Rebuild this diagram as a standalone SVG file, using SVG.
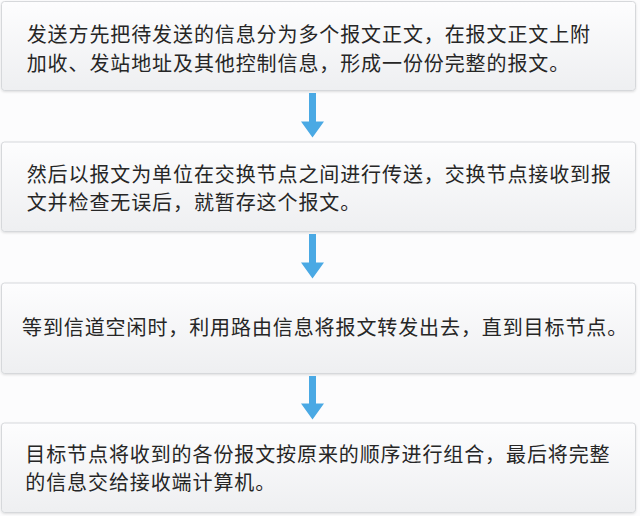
<svg xmlns="http://www.w3.org/2000/svg" width="640" height="516" viewBox="0 0 640 516">
  <defs>
    <linearGradient id="boxFill" x1="0" y1="0" x2="0" y2="1">
      <stop offset="0" stop-color="#fdfdfe"/>
      <stop offset="1" stop-color="#eeeff1"/>
    </linearGradient>
    <filter id="sh" x="-5%" y="-10%" width="110%" height="125%">
      <feDropShadow dx="0" dy="1" stdDeviation="0.8" flood-color="#000" flood-opacity="0.12"/>
    </filter>
  </defs>
  <style>
    .box { fill: url(#boxFill); stroke: #d6d8db; stroke-width: 1; filter: url(#sh); }
    .t { font-family: "Noto Sans CJK SC", "Noto Sans", sans-serif; font-size: 20px; letter-spacing: 0.9px; fill: #262626; }
    .arrow { fill: #4aa9e4; }
  </style>
  <rect width="640" height="516" fill="#fcfcfd"/>

  <g id="node1">
    <rect class="box" x="1.5" y="1.5" width="634" height="89" rx="3"/>
    <text class="t" x="26.7" y="41.6">发送方先把待发送的信息分为多个报文正文，在报文正文上附</text>
    <text class="t" x="26.7" y="70.6">加收、发站地址及其他控制信息，形成一份份完整的报文。</text>
  </g>

  <g id="node2">
    <rect class="box" x="1.5" y="142" width="634" height="89.5" rx="3"/>
    <text class="t" x="26.7" y="181.6">然后以报文为单位在交换节点之间进行传送，交换节点接收到报</text>
    <text class="t" x="26.7" y="210.2">文并检查无误后，就暂存这个报文。</text>
  </g>

  <g id="node3">
    <rect class="box" x="1.5" y="283" width="634" height="90.5" rx="3"/>
    <text class="t" x="22" y="334.6">等到信道空闲时，利用路由信息将报文转发出去，直到目标节点。</text>
  </g>

  <g id="node4">
    <rect class="box" x="1.5" y="423" width="634" height="89.5" rx="3"/>
    <text class="t" x="25.3" y="461.6">目标节点将收到的各份报文按原来的顺序进行组合，最后将完整</text>
    <text class="t" x="25.3" y="489.6">的信息交给接收端计算机。</text>
  </g>

  <g id="connectors">
    <path class="arrow" d="M309 93 H316 V121.5 H324 L312.5 137.5 L301 121.5 H309 Z"/>
    <path class="arrow" d="M309 234 H316 V262.5 H324 L312.5 278.5 L301 262.5 H309 Z"/>
    <path class="arrow" d="M309 376 H316 V403.5 H324 L312.5 419.5 L301 403.5 H309 Z"/>
  </g>
</svg>
